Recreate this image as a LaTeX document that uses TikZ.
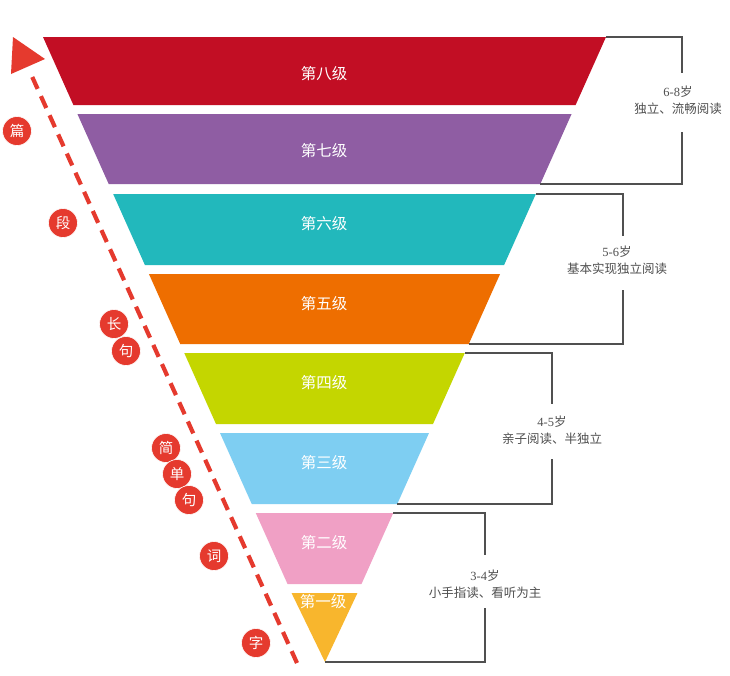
\documentclass[tikz,border=0pt]{standalone}
\usepackage{fontspec}
\setmainfont{Noto Sans CJK SC}
\newfontfamily\numfont{Liberation Serif}
\definecolor{c8}{HTML}{C20E24}
\definecolor{c7}{HTML}{8F5DA3}
\definecolor{c6}{HTML}{22B8BC}
\definecolor{c5}{HTML}{EE6E00}
\definecolor{c4}{HTML}{C4D600}
\definecolor{c3}{HTML}{7ECEF2}
\definecolor{c2}{HTML}{F0A0C5}
\definecolor{c1}{HTML}{F8B62D}
\definecolor{arr}{HTML}{E53A2E}
\definecolor{brk}{HTML}{505050}
\newcommand\xl[1]{{43+0.447*(#1-37)}}
\newcommand\xr[1]{{606-0.447*(#1-37)}}
\newcommand\funband[5]{%
  \fill[#3] (\xl{#1},#1) -- (\xr{#1},#1) -- (\xr{#2},#2) -- (\xl{#2},#2) -- cycle;
  \node[bandlabel] (lab#4) at (324,#5) {第#4级};}
\begin{document}
\begin{tikzpicture}[x=1pt,y=-1pt,
  bandlabel/.style={text=white,font=\fontsize{15.5}{18}\selectfont,inner sep=0pt},
  brline/.style={draw=brk,line width=1.4pt},
  brtext/.style={text=brk,font=\fontsize{12.5}{17}\selectfont,align=center,inner sep=0pt},
  stage/.style={circle,fill=arr,draw=white,line width=0.6pt,minimum size=29pt,inner sep=0pt,text=white,font=\fontsize{14.5}{16}\selectfont}]
\useasboundingbox (0,0) rectangle (730,675);
\fill[white] (0,0) rectangle (730,675);
% funnel bands
\funband{37}{105}{c8}{八}{74}
\funband{114}{184}{c7}{七}{151}
\funband{194}{265}{c6}{六}{224}
\funband{274}{344}{c5}{五}{304}
\funband{353}{424}{c4}{四}{383}
\funband{433}{504}{c3}{三}{463}
\funband{513}{584}{c2}{二}{543}
\fill[c1] (\xl{593},593) -- (\xr{593},593) -- (325,662) -- cycle;
\node[bandlabel] (lab一) at (323,602) {第一级};
% brackets
\coordinate (b1a) at (\xr{37},37);   \coordinate (b1b) at (682,37);
\coordinate (b1c) at (682,73);       \coordinate (b1d) at (682,132);
\coordinate (b1e) at (682,184);      \coordinate (b1f) at (\xr{184},184);
\draw[brline] (b1a) -- (b1b) -- (b1c);
\draw[brline] (b1d) -- (b1e) -- (b1f);
\node[brtext] (t1) at (678,100) {{\numfont 6-8}岁\\独立、流畅阅读};
\coordinate (b2a) at (\xr{194},194); \coordinate (b2b) at (623,194);
\coordinate (b2c) at (623,236);      \coordinate (b2d) at (623,290);
\coordinate (b2e) at (623,344);      \coordinate (b2f) at (\xr{344},344);
\draw[brline] (b2a) -- (b2b) -- (b2c);
\draw[brline] (b2d) -- (b2e) -- (b2f);
\node[brtext] (t2) at (617,260) {{\numfont 5-6}岁\\基本实现独立阅读};
\coordinate (b3a) at (\xr{353},353); \coordinate (b3b) at (552,353);
\coordinate (b3c) at (552,404);      \coordinate (b3d) at (552,459);
\coordinate (b3e) at (552,504);      \coordinate (b3f) at (\xr{504},504);
\draw[brline] (b3a) -- (b3b) -- (b3c);
\draw[brline] (b3d) -- (b3e) -- (b3f);
\node[brtext] (t3) at (552,430) {{\numfont 4-5}岁\\亲子阅读、半独立};
\coordinate (b4a) at (\xr{513},513); \coordinate (b4b) at (485,513);
\coordinate (b4c) at (485,555);      \coordinate (b4d) at (485,608);
\coordinate (b4e) at (485,662);      \coordinate (b4f) at (325,662);
\draw[brline] (b4a) -- (b4b) -- (b4c);
\draw[brline] (b4d) -- (b4e) -- (b4f);
\node[brtext] (t4) at (485,584) {{\numfont 3-4}岁\\小手指读、看听为主};
% dashed arrow
\coordinate (atail) at (297,663);
\coordinate (ahead) at (30,72);
\draw[arr,line width=4.2pt,dash pattern=on 13pt off 8pt] (atail) -- (ahead);
\fill[arr] (13,37) -- (45,59) -- (11,74) -- cycle;
% stage circles
\node[stage] (s1) at (17,131) {篇};
\node[stage] (s2) at (63,223) {段};
\node[stage] (s3) at (114,324) {长};
\node[stage] (s4) at (126,351) {句};
\node[stage] (s5) at (166,448) {简};
\node[stage] (s6) at (177,474) {单};
\node[stage] (s7) at (189,500) {句};
\node[stage] (s8) at (214,556) {词};
\node[stage] (s9) at (256,643) {字};
\end{tikzpicture}
\end{document}
